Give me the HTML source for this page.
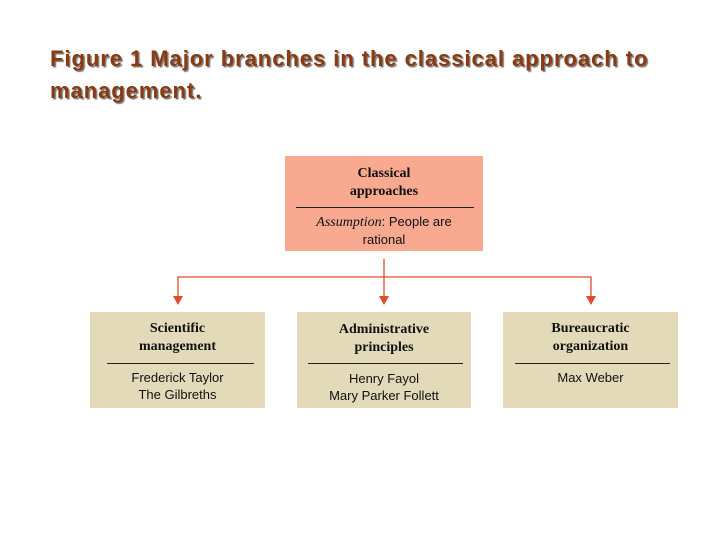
<!DOCTYPE html>
<html><head><meta charset="utf-8"><style>
body{margin:0;width:720px;height:540px;background:#fff;position:relative;overflow:hidden;font-family:"Liberation Sans",sans-serif}
.t{position:absolute;left:50px;top:43px;font-size:22px;font-weight:bold;color:#8a3a10;line-height:32px;letter-spacing:0.95px;text-shadow:1.5px 1.5px 1px #777;white-space:nowrap}
.b{position:absolute;text-align:center;color:#111}
.h{font-family:"Liberation Serif",serif;font-weight:bold;font-size:14px;line-height:18px}
.d{font-size:13px;line-height:17px}
.ln{position:absolute;height:1px;background:#222}
</style></head><body>
<div class="t">Figure 1 Major branches in the classical approach to<br>management.</div>

<div class="b" style="left:285px;top:156px;width:198px;height:95px;background:#f8a98f"></div>
<div class="b h" style="left:285px;top:165px;width:198px">Classical<br>approaches</div>
<div class="ln" style="left:296px;top:207px;width:178px"></div>
<div class="b d" style="left:285px;top:213px;width:198px"><i style="font-family:'Liberation Serif',serif;font-size:14px">Assumption</i>: People are<br>rational</div>

<svg style="position:absolute;left:0;top:0" width="720" height="540">
<g stroke="#e04a30" stroke-width="1.3" fill="none">
<line x1="384" y1="259" x2="384" y2="298"/>
<polyline points="178,298 178,277 591,277 591,298"/>
</g>
<g fill="#e04a30">
<polygon points="173,296 183,296 178,305"/>
<polygon points="379,296 389,296 384,305"/>
<polygon points="586,296 596,296 591,305"/>
</g>
</svg>

<div class="b" style="left:90px;top:312px;width:175px;height:96px;background:#e2dab8"></div>
<div class="b h" style="left:90px;top:320px;width:175px">Scientific<br>management</div>
<div class="ln" style="left:107px;top:363px;width:147px"></div>
<div class="b d" style="left:90px;top:369px;width:175px">Frederick Taylor<br>The Gilbreths</div>

<div class="b" style="left:297px;top:312px;width:174px;height:96px;background:#e2dab8"></div>
<div class="b h" style="left:297px;top:321px;width:174px">Administrative<br>principles</div>
<div class="ln" style="left:308px;top:363px;width:155px"></div>
<div class="b d" style="left:297px;top:370px;width:174px">Henry Fayol<br>Mary Parker Follett</div>

<div class="b" style="left:503px;top:312px;width:175px;height:96px;background:#e2dab8"></div>
<div class="b h" style="left:503px;top:320px;width:175px">Bureaucratic<br>organization</div>
<div class="ln" style="left:515px;top:363px;width:155px"></div>
<div class="b d" style="left:503px;top:369px;width:175px">Max Weber</div>
</body></html>
